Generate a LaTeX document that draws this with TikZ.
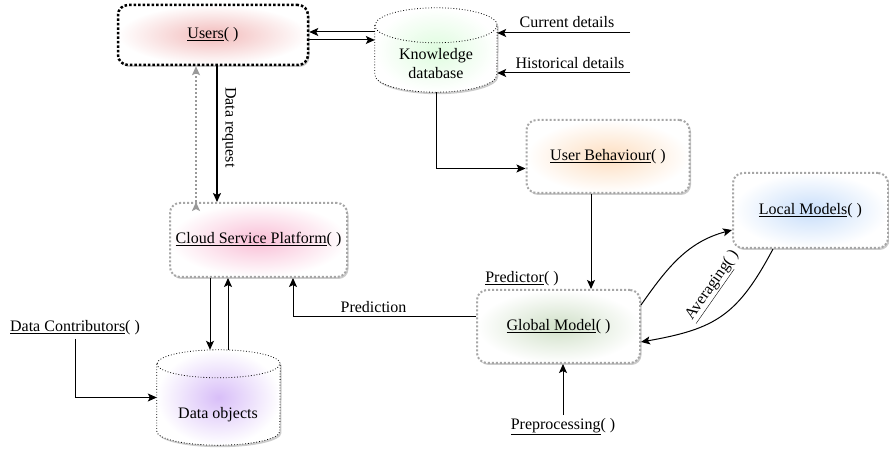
\documentclass[tikz,border=0pt]{standalone}
\usepackage{fontspec}
\setmainfont{Liberation Serif}
\usetikzlibrary{arrows.meta,shapes.geometric,shadows}

\definecolor{usersred}{RGB}{242,186,186}
\definecolor{kdgreen}{RGB}{222,252,222}
\definecolor{csppink}{RGB}{249,190,214}
\definecolor{uborange}{RGB}{253,222,192}
\definecolor{lmblue}{RGB}{200,222,250}
\definecolor{gmgreen}{RGB}{208,224,200}
\definecolor{dopurple}{RGB}{216,190,248}

\tikzset{
	procbox/.style={rounded corners=10pt, draw=gray!70, dotted, line width=2pt, outer color=white,
		minimum width=163pt, minimum height=73pt, inner sep=2pt,
		drop shadow={shadow xshift=1.5pt, shadow yshift=-2pt, opacity=0.4}},
	dbframe/.style={minimum width=#1, inner sep=0pt},
	dbline/.style={draw=black, dotted, line width=0.8pt},
	flow/.style={->, line width=1pt},
}

% store drawn round an empty frame node: #1 name, #2 colour, #3 x radius, #4 y radius
\newcommand{\dbstore}[4]{
	\path[dbline, outer color=white, inner color=#2,
		drop shadow={shadow xshift=1.5pt, shadow yshift=-2pt, opacity=0.4}]
		([yshift=-#4]#1.north west) -- ([yshift=#4]#1.south west)
		arc[start angle=180, end angle=360, x radius=#3, y radius=#4]
		-- ([yshift=-#4]#1.north east)
		arc[start angle=0, end angle=180, x radius=#3, y radius=#4] -- cycle;
	\draw[dbline] ([yshift=-#4]#1.north west)
		arc[start angle=180, end angle=360, x radius=#3, y radius=#4];
}

\begin{document}
\begin{tikzpicture}[x=1pt, y=1pt, >={Stealth[length=9pt,width=8pt,inset=2pt]}, font=\fontsize{16}{18.5}\selectfont]
	\useasboundingbox (0,0) rectangle (889,452);
	
	% boxes and stores
	\node[procbox, draw=black, line width=2.5pt, minimum width=190pt, minimum height=60pt, inner color=usersred]
		(users) at (213,417) {\underline{Users}( )};
	\node[dbframe=122pt, minimum height=84pt] (kd) at (436,402) {};
	\dbstore{kd}{kdgreen}{61pt}{17.5pt}
	\node[align=center] (kdtext) at (436,388.5) {Knowledge\\database};
	\node[procbox, minimum width=177pt, minimum height=74pt, inner color=csppink]
		(csp) at (258.5,212) {\underline{Cloud Service Platform}( )};
	\node[procbox, inner color=uborange]
		(ub) at (608,295.5) {\underline{User Behaviour}( )};
	\node[procbox, inner color=gmgreen]
		(gm) at (558.5,125.5) {\underline{Global Model}( )};
	\node[procbox, minimum width=155pt, minimum height=75pt, inner color=lmblue]
		(lm) at (810.5,241.5) {\underline{Local Models}( )};
	\node[dbframe=123pt, minimum height=95pt] (do) at (218.5,54.5) {};
	\dbstore{do}{dopurple}{61.5pt}{14pt}
	\node (dotext) at (218,37) {Data objects};
	
	% free labels
	\node (cur)     at (567,430) {Current details};
	\node (hist)    at (570,389) {Historical details};
	\node (pred)    at (522,173) {\underline{Predictor}( )};
	\node (prep)    at (563,25)  {\underline{Preprocessing}( )};
	\node (contrib) at (75,124)  {\underline{Data Contributors}( )};
	\coordinate (curend)  at (630,419);
	\coordinate (histend) at (630,379);
	
	% users <-> knowledge database
	\path [flow] ([yshift=3pt]users.east -| kd.west) edge ([yshift=3pt]users.east);
	\path [flow] ([yshift=-5pt]users.east) edge ([yshift=-5pt]users.east -| kd.west);
	\path [flow] (curend) edge (curend -| kd.east);
	\path [flow] (histend) edge (histend -| kd.east);
	
	\draw [flow] (kd.south) |- ([yshift=-12pt]ub.west);
	\path [flow] ([xshift=-17pt]ub.south) edge ([xshift=-17pt]ub.south |- gm.north);
	
	% users <-> cloud
	\path [->, line width=2pt] ([xshift=4pt]users.south) edge
		node[pos=0.45, rotate=-90, anchor=south, yshift=1pt] {Data request} ([xshift=4pt]users.south |- csp.north);
	\path [->, draw=gray!80, dotted, line width=2pt] ([xshift=-17pt]users.south |- csp.north) edge ([xshift=-17pt]users.south);
	
	% cloud <-> data objects
	\path [flow] ([xshift=-48.5pt]csp.south) edge ([xshift=-48.5pt]csp.south |- do.north);
	\path [flow] ([xshift=-30.5pt]csp.south |- do.north) edge ([xshift=-30.5pt]csp.south);
	\draw [flow] (contrib.south) |- (do.west);
	
	% models
	\draw [flow] ([yshift=10pt]gm.west) -| node[pos=0.28, above] {Prediction} ([xshift=34.5pt]csp.south);
	\draw [flow] ([yshift=21.5pt]gm.east) to[out=55, in=195] ([yshift=-19.5pt]lm.west);
	\draw [flow] ([xshift=-37.5pt]lm.south) to[out=-118, in=10, looseness=1.2] ([yshift=-15.5pt]gm.east);
	\node[rotate=55] (avg) at (713,166) {\underline{Averaging}( )};
	\path [flow] (prep.north) edge (prep.north |- gm.south);
\end{tikzpicture}
\end{document}
